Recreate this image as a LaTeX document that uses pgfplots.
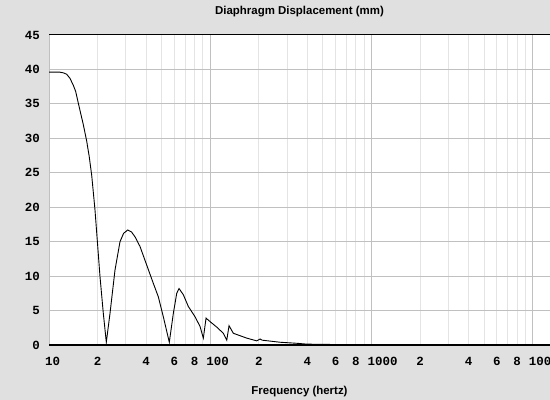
\documentclass[border=0pt]{standalone}
\usepackage{pgfplots}
\pgfplotsset{compat=1.18}
\usepackage{fontspec}
\setmainfont{Liberation Sans}
\newfontfamily\tickfont{Liberation Mono}
\definecolor{bg}{RGB}{224,224,224}
\definecolor{majg}{RGB}{192,192,192}
\definecolor{ming}{RGB}{228,228,228}
\begin{document}
\begin{tikzpicture}
\fill[bg] (-49bp,-55bp) rectangle (501bp,345bp);
\begin{axis}[
  at={(0,0)}, anchor=south west,
  scale only axis, width=501bp, height=310bp,
  xmode=log, xmin=10, xmax=12800, ymin=0, ymax=45,
  axis background/.style={fill=white},
  axis x line*=bottom, axis y line*=left,
  ytick={0,5,...,45},
  extra y ticks={5,10,...,45},
  extra y tick labels={},
  extra y tick style={grid=major, major grid style={majg, line width=1bp}},
  xtick={20,40,60,80,200,400,600,800,2000,4000,6000,8000},
  xticklabels={2,4,6,8,2,4,6,8,2,4,6,8},
  minor xtick={30,50,70,90,300,500,700,900,3000,5000,7000,9000},
  extra x ticks={10,100,1000,10000},
  extra x tick labels={10,100,1000,10000},
  extra x tick style={grid=major, major grid style={majg, line width=1bp},
     xticklabel style={anchor=base west, xshift=-4bp}},
  xmajorgrids, xminorgrids,
  major grid style={ming, line width=1bp},
  minor grid style={ming, line width=1bp},
  major tick length=0pt, minor tick length=0pt,
  tick label style={font=\tickfont\fontsize{12.5}{13}\selectfont\bfseries, inner sep=0pt},
  /pgf/number format/assume math mode=true,
  xticklabel style={anchor=base, yshift=-20bp},
  yticklabel style={anchor=east, xshift=-9bp},
  axis line style={black, line width=1bp},
  xlabel={Frequency (hertz)},
  every axis x label/.style={at={(0.5,0)}, anchor=base, yshift=-49bp,
     font=\fontsize{11.5}{13}\selectfont\bfseries},
  title={Diaphragm Displacement (mm)},
  every axis title/.style={at={(0.5,1)}, anchor=base, yshift=20bp,
     font=\fontsize{11.5}{13}\selectfont\bfseries},
  clip=true,
]
\addplot[black, line width=0.9bp, no marks] coordinates {
(10,39.6) (11,39.6) (11.7,39.6) (12.3,39.5) (12.88,39.3) (13.5,38.7) (14.15,37.7)
(14.64,36.8) (15.2,35.1) (15.73,33.6) (16.32,32.0)
(17.13,29.6) (17.75,27.4) (18.41,24.6) (19.29,19.6) (20.72,9.9) (21.72,4.6) (22.67,0.4)
(23.90,4.6) (25.67,10.9) (27.57,15.0) (29,16.2) (30.78,16.7) (32.5,16.4)
(34.17,15.7) (36.68,14.3) (40.37,11.6) (44.36,8.95) (47.64,7.0) (51.17,4.1)
(55.74,0.4) (59.05,4.6) (61.97,7.5) (64.04,8.2) (68.10,7.3) (73.12,5.6)
(80.48,4.1) (86.43,2.7) (90.6,1.0) (94.2,3.9) (99.7,3.4) (109.7,2.6)
(120.6,1.7) (126.6,0.7) (130.8,2.8) (139.1,1.7) (168.4,1.0) (194.3,0.6)
(203.7,0.87) (210,0.7) (271,0.4) (344,0.25) (400,0.12) (553,0.1)
};
\end{axis}
\draw[black, line width=1bp] (0,310bp) -- (501bp,310bp);
\draw[black, line width=1.5bp] (0,0) -- (501bp,0);
\pgfresetboundingbox
\path[use as bounding box] (-49bp,-55bp) rectangle (501bp,345bp);
\end{tikzpicture}
\end{document}
